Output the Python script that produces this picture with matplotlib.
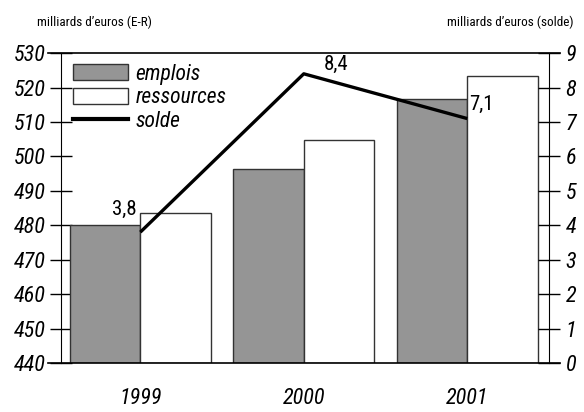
import matplotlib
matplotlib.use("Agg")
import matplotlib.pyplot as plt
import numpy as np
from matplotlib.patches import Patch
from matplotlib.lines import Line2D

years = ["1999", "2000", "2001"]
emplois = [480.0, 496.3, 516.6]
ressources = [483.5, 504.7, 523.3]
solde = [3.8, 8.4, 7.1]
solde_labels = ["3,8", "8,4", "7,1"]
left_ticks = [440, 450, 460, 470, 480, 490, 500, 510, 520, 530]
right_ticks = [0, 1, 2, 3, 4, 5, 6, 7, 8, 9]

plt.rcParams['font.family'] = ['Roboto Condensed', 'DejaVu Sans']

fig = plt.figure(figsize=(5.84, 4.12), dpi=100)
ax = fig.add_axes([0.1045, 0.119, 0.8355, 0.752])
ax2 = ax.twinx()

x = np.arange(len(years))
w = 0.43
ax.bar(x - w / 2, [e - 440 for e in emplois], w, bottom=440, color="#959595",
       edgecolor="#333333", linewidth=1.0, zorder=2)
ax.bar(x + w / 2, [r - 440 for r in ressources], w, bottom=440, color="white",
       edgecolor="#333333", linewidth=1.0, zorder=2)
ax.set_ylim(440, 530)
ax.set_xlim(-0.485, 2.5)
ax.set_yticks(left_ticks)
ax.set_yticklabels([str(t) for t in left_ticks], fontsize=16, style="italic")
ax.tick_params(axis="y", direction="inout", length=16, width=1, pad=3)
ax.set_xticks(x)
ax.set_xticklabels(years, fontsize=16, style="italic")
ax.tick_params(axis="x", length=0, pad=18)

ax2.plot(x, solde, color="black", linewidth=2.4, zorder=5, solid_capstyle="butt")
ax2.set_ylim(0, 9)
ax2.set_yticks(right_ticks)
ax2.set_yticklabels([str(t) for t in right_ticks], fontsize=16, style="italic")
ax2.tick_params(axis="y", direction="inout", length=16, width=1, pad=4)

# label offsets relative to the line points (data units)
offsets = [(-0.10, 0.38), (0.20, 0.0), (0.085, 0.14)]
for xi, s, lab, (dx, dy) in zip(x, solde, solde_labels, offsets):
    ax2.text(xi + dx, s + dy, lab, fontsize=15, ha="center", va="bottom")

for a in (ax, ax2):
    for side in ("top", "bottom", "left", "right"):
        a.spines[side].set_visible(False)
ax.spines["left"].set_visible(True)
ax2.spines["right"].set_visible(True)
for yy in (0.0, 1.0):
    ax.plot([-0.027, 1.022], [yy, yy], transform=ax.transAxes, color="black",
            linewidth=1.2, clip_on=False, zorder=6)

handles = [Patch(facecolor="#959595", edgecolor="#333333"),
           Patch(facecolor="white", edgecolor="#333333"),
           Line2D([0], [0], color="black", linewidth=3)]
ax.legend(handles, ["emplois", "ressources", "solde"], loc="upper left",
          bbox_to_anchor=(0.0246, 0.966), frameon=False, handlelength=2.55,
          handleheight=0.75, handletextpad=0.35, labelspacing=0.12,
          borderpad=0, borderaxespad=0, prop={"size": 15.5, "style": "italic"})

fig.text(0.063, 0.945, "milliards d\u2019euros (E-R)", fontsize=9.5, ha="left", va="center")
fig.text(0.982, 0.945, "milliards d\u2019euros (solde)", fontsize=9.5, ha="right", va="center")

fig.savefig("out.png", dpi=100)
